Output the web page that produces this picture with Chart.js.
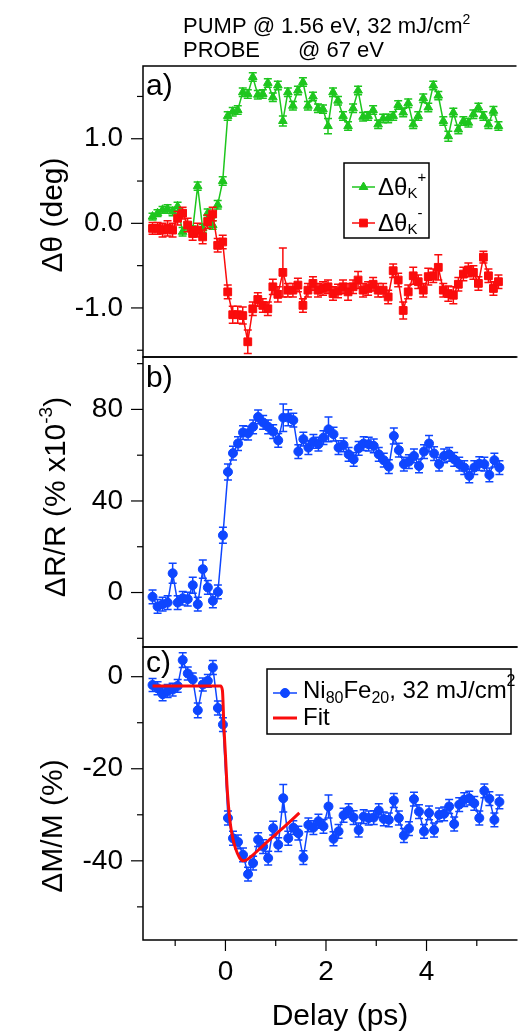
<!DOCTYPE html>
<html>
<head>
<meta charset="utf-8">
<script src="https://cdn.jsdelivr.net/npm/chart.js@4.4.1/dist/chart.umd.min.js"></script>
<style>
  html, body { margin: 0; padding: 0; background: #fff; }
  #wrap { position: relative; width: 521px; height: 1031px; overflow: hidden; }
  .panel { position: absolute; left: 0; width: 521px; }
  canvas { display: block; }
</style>
</head>
<body>
<div id="wrap">
  <div class="panel" style="top:0px"><canvas id="chartA" width="521" height="397"></canvas></div>
  <div class="panel" style="top:317px"><canvas id="chartB" width="521" height="370"></canvas></div>
  <div class="panel" style="top:607px"><canvas id="chartC" width="521" height="424"></canvas></div>
</div>
<script>
// data

const delay = [-1.45, -1.35, -1.25, -1.15, -1.05, -0.95, -0.85, -0.75, -0.65, -0.55,
  -0.45, -0.35, -0.25, -0.15, -0.05, 0.05, 0.15, 0.25, 0.35, 0.45,
  0.55, 0.65, 0.75, 0.85, 0.95, 1.05, 1.15, 1.25, 1.35, 1.45,
  1.55, 1.65, 1.75, 1.85, 1.95, 2.05, 2.15, 2.25, 2.35, 2.45,
  2.55, 2.65, 2.75, 2.85, 2.95, 3.05, 3.15, 3.25, 3.35, 3.45,
  3.55, 3.65, 3.75, 3.85, 3.95, 4.05, 4.15, 4.25, 4.35, 4.45,
  4.55, 4.65, 4.75, 4.85, 4.95, 5.05, 5.15, 5.25, 5.35, 5.45]

// a) kerr rotation (deg)
const thetaPlus = [0.08, 0.12, 0.16, 0.17, 0.14, 0.20, -0.10, -0.04, -0.08, 0.44,
  -0.06, 0.12, -0.02, 0.22, 0.50, 1.27, 1.32, 1.34, 1.55, 1.53,
  1.73, 1.52, 1.53, 1.66, 1.49, 1.63, 1.21, 1.55, 1.39, 1.57,
  1.67, 1.39, 1.50, 1.36, 1.35, 1.15, 1.55, 1.45, 1.27, 1.15,
  1.36, 1.57, 1.26, 1.27, 1.34, 1.17, 1.24, 1.24, 1.27, 1.40,
  1.31, 1.42, 1.17, 1.27, 1.48, 1.37, 1.63, 1.51, 1.21, 1.03,
  1.31, 1.11, 1.21, 1.19, 1.29, 1.37, 1.27, 1.17, 1.33, 1.15]
const errPlus = [0.04, 0.04, 0.04, 0.05, 0.05, 0.05, 0.05, 0.05, 0.05, 0.05,
  0.05, 0.05, 0.05, 0.05, 0.05, 0.05, 0.05, 0.05, 0.05, 0.05,
  0.05, 0.05, 0.05, 0.05, 0.05, 0.05, 0.06, 0.05, 0.05, 0.05,
  0.05, 0.05, 0.05, 0.05, 0.05, 0.09, 0.05, 0.05, 0.05, 0.05,
  0.05, 0.05, 0.05, 0.05, 0.05, 0.05, 0.05, 0.05, 0.05, 0.05,
  0.05, 0.05, 0.05, 0.05, 0.05, 0.05, 0.05, 0.05, 0.05, 0.06,
  0.05, 0.05, 0.05, 0.05, 0.05, 0.05, 0.05, 0.05, 0.05, 0.05]
const thetaMinus = [-0.06, -0.06, -0.08, -0.06, -0.08, 0.06, 0.12, -0.02, -0.12, -0.08,
  -0.16, 0.02, 0.11, -0.26, -0.22, -0.81, -1.08, -1.08, -1.09, -1.40,
  -1.01, -0.90, -0.97, -1.01, -0.75, -0.84, -0.58, -0.79, -0.79, -0.73,
  -0.97, -0.79, -0.71, -0.79, -0.77, -0.75, -0.83, -0.80, -0.75, -0.81,
  -0.75, -0.67, -0.79, -0.77, -0.72, -0.79, -0.79, -0.87, -0.56, -0.67,
  -1.03, -0.81, -0.62, -0.69, -0.79, -0.63, -0.62, -0.52, -0.79, -0.83,
  -0.85, -0.72, -0.60, -0.55, -0.58, -0.71, -0.40, -0.62, -0.77, -0.69]
const errMinus = [0.07, 0.07, 0.08, 0.09, 0.08, 0.08, 0.07, 0.08, 0.08, 0.08,
  0.08, 0.08, 0.08, 0.08, 0.08, 0.08, 0.10, 0.10, 0.10, 0.14,
  0.08, 0.08, 0.08, 0.08, 0.09, 0.09, 0.29, 0.08, 0.08, 0.08,
  0.08, 0.08, 0.08, 0.08, 0.08, 0.08, 0.08, 0.08, 0.08, 0.10,
  0.08, 0.10, 0.08, 0.08, 0.08, 0.08, 0.08, 0.08, 0.08, 0.08,
  0.10, 0.08, 0.10, 0.08, 0.08, 0.10, 0.08, 0.15, 0.08, 0.09,
  0.10, 0.08, 0.08, 0.08, 0.08, 0.08, 0.07, 0.08, 0.08, 0.08]

// b) reflectivity (% x1e-3)
const reflect = [-1.9, -6.1, -5.1, -4.4, 8.4, -4.4, -2.5, -2.9, 3.2, -5.1,
  10.2, 2.2, -3.6, 0.3, 25.0, 52.7, 60.9, 65.1, 69.9, 69.6,
  72.4, 76.7, 74.3, 72.4, 70.3, 66.5, 76.4, 76.4, 75.3, 61.6,
  67.0, 63.3, 66.0, 64.8, 67.7, 71.3, 69.2, 63.3, 64.5, 60.4,
  58.2, 63.0, 65.1, 64.8, 64.1, 60.4, 57.8, 55.0, 68.4, 62.2,
  56.1, 57.2, 59.7, 55.3, 61.6, 65.1, 60.7, 56.1, 59.7, 60.4,
  58.2, 56.1, 54.6, 51.0, 54.6, 56.3, 56.1, 51.4, 57.8, 54.6]
const errReflect = [3, 3, 3, 3, 4.4, 3, 3, 3, 3.5, 3,
  4, 3, 3, 3, 3.5, 3.5, 3, 3, 3, 3,
  3, 3, 3, 3, 3, 3, 6, 3.5, 3, 3,
  3, 3, 3, 3, 3, 5.4, 3, 3, 3, 3,
  3, 3, 3, 3, 3, 3, 3, 3, 3.5, 3,
  3, 3, 3, 3, 3, 3.5, 3, 3, 3, 3,
  3, 3, 3, 3, 3, 3, 3, 3, 3, 3]

// c) magnetization (%)
const magnet = [-1.8, -2.5, -3.8, -3.1, -2.8, -2.0, 3.6, 0.7, -0.6, -7.3,
  -1.7, -0.9, 2.0, -6.8, -10.4, -30.7, -35.1, -35.9, -38.7, -42.9,
  -40.5, -35.4, -36.9, -39.4, -32.9, -36.5, -26.4, -35.1, -32.8, -34.0,
  -39.3, -32.2, -32.8, -31.4, -32.5, -28.2, -35.2, -33.6, -30.1, -29.1,
  -30.6, -33.3, -30.4, -30.7, -30.6, -29.1, -30.9, -31.1, -26.9, -30.7,
  -34.5, -33.0, -26.6, -29.3, -33.6, -29.6, -33.3, -30.0, -29.8, -28.2,
  -32.0, -27.8, -26.7, -26.4, -27.5, -30.7, -24.8, -26.5, -31.1, -27.2]
const errMagnet = [1.4, 1.4, 1.4, 1.4, 1.4, 1.4, 1.6, 1.4, 1.4, 1.6,
  1.4, 1.4, 1.5, 1.5, 1.5, 1.5, 1.5, 1.5, 1.5, 1.5,
  1.5, 1.5, 1.5, 1.5, 1.5, 1.5, 3.0, 1.5, 1.5, 1.5,
  1.5, 1.5, 1.5, 1.5, 1.5, 2.5, 1.5, 1.5, 1.5, 1.5,
  1.5, 1.5, 1.5, 1.5, 1.5, 1.5, 1.5, 1.5, 1.5, 1.5,
  1.5, 1.5, 1.5, 1.5, 1.5, 1.5, 1.5, 1.5, 1.5, 1.5,
  1.5, 1.5, 1.5, 1.5, 1.5, 1.5, 1.5, 1.5, 1.5, 1.5]

// fit curve for c)
const fitDelay = [-1.45, -0.1, -0.06, -0.03, 0.0, 0.03, 0.06, 0.1, 0.15, 0.2, 0.28, 0.36, 0.45, 0.55, 0.7, 0.9, 1.1, 1.3, 1.47]
const fitValue = [-2.0, -2.0, -3.0, -11.0, -17.0, -23.5, -28.0, -32.2, -35.3, -37.3, -39.3, -40.0, -39.6, -38.7, -37.2, -35.2, -33.3, -31.3, -29.6]

const xMin = -1.64, xMax = 5.77

const FONT = "'Liberation Sans', Arial, sans-serif"
const GREEN = 'rgb(30,198,30)'
const RED = 'rgb(250,12,12)'
const BLUE = 'rgb(14,70,255)'

const pts = (ys) => ys.map((v, i) => ({ x: delay[i], y: v }))

/////////////////////// drawing helpers ///////////////////////

function rich(ctx, parts, x, y, align) {
  let w = 0
  parts.forEach(p => {
    ctx.font = p[1] + 'px ' + FONT
    w += ctx.measureText(p[0]).width
  })
  let cx = align === 'center' ? x - w / 2 : x
  ctx.textAlign = 'left'
  ctx.textBaseline = 'alphabetic'
  parts.forEach(p => {
    ctx.font = p[1] + 'px ' + FONT
    ctx.fillText(p[0], cx, y + (p[2] || 0))
    cx += ctx.measureText(p[0]).width
  })
}

function yTitle(ctx, parts, bx, cy) {
  ctx.save()
  ctx.translate(bx, cy)
  ctx.rotate(-Math.PI / 2)
  rich(ctx, parts, 0, 0, 'center')
  ctx.restore()
}

function legendBox(ctx, x, y, w, h) {
  ctx.fillStyle = '#fff'
  ctx.fillRect(x, y, w, h)
  ctx.strokeStyle = '#000'
  ctx.lineWidth = 1.5
  ctx.strokeRect(x, y, w, h)
}

function legendEntry(ctx, x1, x2, y, color, style, radius, lw) {
  ctx.strokeStyle = color
  ctx.fillStyle = color
  ctx.lineWidth = lw
  ctx.beginPath()
  ctx.moveTo(x1, y)
  ctx.lineTo(x2, y)
  ctx.stroke()
  if (style) {
    ctx.lineWidth = 1
    Chart.helpers.drawPoint(ctx, { pointStyle: style, radius: radius, rotation: 0, borderWidth: 1 }, (x1 + x2) / 2, y)
  }
}

/////////////////////// plugins ///////////////////////

const errorBars = {
  id: 'errorBars',
  beforeDatasetDraw(chart, args) {
    const ds = chart.data.datasets[args.index]
    if (!ds.err) return
    const { ctx, chartArea: a, scales: { x, y } } = chart
    ctx.save()
    ctx.beginPath()
    ctx.rect(a.left, a.top, a.right - a.left, a.bottom - a.top)
    ctx.clip()
    ctx.strokeStyle = ds.borderColor
    ctx.lineWidth = 1.5
    ds.data.forEach((p, i) => {
      const px = x.getPixelForValue(p.x)
      const y1 = y.getPixelForValue(p.y + ds.err[i])
      const y2 = y.getPixelForValue(p.y - ds.err[i])
      ctx.beginPath()
      ctx.moveTo(px, y1); ctx.lineTo(px, y2)
      ctx.moveTo(px - 4, y1); ctx.lineTo(px + 4, y1)
      ctx.moveTo(px - 4, y2); ctx.lineTo(px + 4, y2)
      ctx.stroke()
    })
    ctx.restore()
  }
}

const frameTicks = {
  id: 'frameTicks',
  afterDraw(chart) {
    const { ctx, chartArea: a, scales: { x, y } } = chart
    ctx.save()
    ctx.strokeStyle = '#000'
    ctx.lineWidth = 1.5
    ctx.beginPath()
    ctx.moveTo(a.right + 2, a.top)
    ctx.lineTo(a.left, a.top)
    ctx.lineTo(a.left, a.bottom)
    ctx.lineTo(a.right + 2, a.bottom)
    ctx.stroke()
    ctx.lineWidth = 1.2
    y.ticks.forEach(t => {
      const py = y.getPixelForValue(t.value)
      const len = t.label !== '' ? 12 : 6
      ctx.beginPath()
      ctx.moveTo(a.left - len, py)
      ctx.lineTo(a.left, py)
      ctx.stroke()
    })
    if (x.options.display) {
      x.ticks.forEach(t => {
        const px = x.getPixelForValue(t.value)
        const len = t.label !== '' ? 11 : 6
        ctx.beginPath()
        ctx.moveTo(px, a.bottom)
        ctx.lineTo(px, a.bottom + len)
        ctx.stroke()
      })
    }
    ctx.restore()
  }
}

/////////////////////// scales ///////////////////////

function xScale(show) {
  return {
    type: 'linear', min: xMin, max: xMax, display: show,
    grid: { display: false, drawTicks: true, tickLength: 11 },
    border: { display: false },
    ticks: {
      stepSize: 1, includeBounds: false, autoSkip: false, maxRotation: 0, padding: 4,
      color: '#000', font: { family: FONT, size: 28 },
      callback: v => (v % 2 === 0 ? String(v) : '')
    },
    afterFit: s => { s.height = show ? 91 : 0 }
  }
}

function yScale(min, max, step, fmt) {
  return {
    type: 'linear', min: min, max: max,
    grid: { display: false, drawTicks: true, tickLength: 12 },
    border: { display: false },
    ticks: {
      stepSize: step, includeBounds: false, autoSkip: false, padding: 8,
      color: '#000', font: { family: FONT, size: 28 },
      callback: fmt
    },
    afterFit: s => { s.width = 143 }
  }
}

function makePanel(id, datasets, padding, showX, y, deco) {
  return new Chart(document.getElementById(id), {
    type: 'line',
    data: { datasets: datasets },
    options: {
      responsive: false,
      animation: false,
      devicePixelRatio: 1,
      layout: { padding: padding },
      plugins: { legend: { display: false }, tooltip: { enabled: false } },
      scales: { x: xScale(showX), y: y }
    },
    plugins: [errorBars, frameTicks, deco]
  })
}

function series(values, err, color, style, radius) {
  return {
    data: pts(values), err: err,
    borderColor: color, backgroundColor: color,
    borderWidth: 1.5,
    pointStyle: style, pointRadius: radius, pointBorderWidth: 1,
    pointBackgroundColor: color, pointBorderColor: color
  }
}

/////////////////////// panel a ///////////////////////

// canvas A: page y 0..397, plot 66..357
makePanel('chartA',
  [series(thetaMinus, errMinus, RED, 'rect', 5.5), series(thetaPlus, errPlus, GREEN, 'triangle', 5)],
  { top: 66, bottom: 40, left: 0, right: 0 }, false,
  yScale(-1.58, 1.86, 0.5, v => (Math.abs(v - Math.round(v)) < 1e-6 ? v.toFixed(1) : '')),
  {
    id: 'decoA',
    afterDraw(chart) {
      const ctx = chart.ctx, a = chart.chartArea
      ctx.save()
      ctx.fillStyle = '#000'
      rich(ctx, [['PUMP @ 1.56 eV, 32 mJ/cm', 22], ['2', 14, -9]], 183, 33)
      rich(ctx, [['PROBE', 22]], 183, 57)
      rich(ctx, [['@ 67 eV', 22]], 298, 57)
      rich(ctx, [['a)', 30]], a.left + 3, a.top + 29)
      yTitle(ctx, [['Δθ (deg)', 30]], 62, 215)
      legendBox(ctx, 344, 163, 85, 75)
      legendEntry(ctx, 352, 375, 187, GREEN, 'triangle', 5, 1.5)
      legendEntry(ctx, 352, 375, 223, RED, 'rect', 5.5, 1.5)
      ctx.fillStyle = '#000'
      rich(ctx, [['Δθ', 24], ['K', 15, 3], ['+', 15, -13]], 378, 195)
      rich(ctx, [['Δθ', 24], ['K', 15, 3], ['-', 15, -13]], 378, 231)
      ctx.restore()
    }
  })

/////////////////////// panel b ///////////////////////

// canvas B: page y 317..687, plot 357..647
makePanel('chartB',
  [series(reflect, errReflect, BLUE, 'circle', 4.5)],
  { top: 40, bottom: 40, left: 0, right: 0 }, false,
  yScale(-23.8, 102.9, 20, v => (v % 40 === 0 ? String(v) : '')),
  {
    id: 'decoB',
    afterDraw(chart) {
      const ctx = chart.ctx, a = chart.chartArea
      ctx.save()
      ctx.fillStyle = '#000'
      rich(ctx, [['b)', 30]], a.left + 3, a.top + 30)
      yTitle(ctx, [['ΔR/R (% x10', 30], ['-3', 19, -13], [')', 30]], 65, a.top + 140)
      ctx.restore()
    }
  })

/////////////////////// panel c ///////////////////////

const fitSet = {
  data: fitDelay.map((d, i) => ({ x: d, y: fitValue[i] })),
  borderColor: RED, borderWidth: 3, pointRadius: 0,
  cubicInterpolationMode: 'monotone'
}

// canvas C: page y 607..1031, plot 647..940
makePanel('chartC',
  [fitSet, series(magnet, errMagnet, BLUE, 'circle', 4.5)],
  { top: 40, bottom: 0, left: 0, right: 0 }, true,
  yScale(-57.2, 6.45, 10, v => (v % 20 === 0 ? String(v) : '')),
  {
    id: 'decoC',
    afterDraw(chart) {
      const ctx = chart.ctx, a = chart.chartArea
      ctx.save()
      ctx.fillStyle = '#000'
      rich(ctx, [['c)', 30]], a.left + 3, a.top + 25)
      yTitle(ctx, [['ΔM/M (%)', 30]], 62, a.top + 179)
      rich(ctx, [['Delay (ps)', 30]], 340, a.bottom + 85, 'center')
      legendBox(ctx, 267, a.top + 22, 244, 65)
      legendEntry(ctx, 273, 297, a.top + 46, BLUE, 'circle', 4.5, 1.5)
      legendEntry(ctx, 273, 297, a.top + 71, RED, null, 0, 3)
      ctx.fillStyle = '#000'
      rich(ctx, [['Ni', 24], ['80', 16, 5], ['Fe', 24], ['20', 16, 5], [', 32 mJ/cm', 24], ['2', 16, -12]], 303, a.top + 51)
      rich(ctx, [['Fit', 24]], 303, a.top + 78)
      ctx.restore()
    }
  })
</script>
</body>
</html>
